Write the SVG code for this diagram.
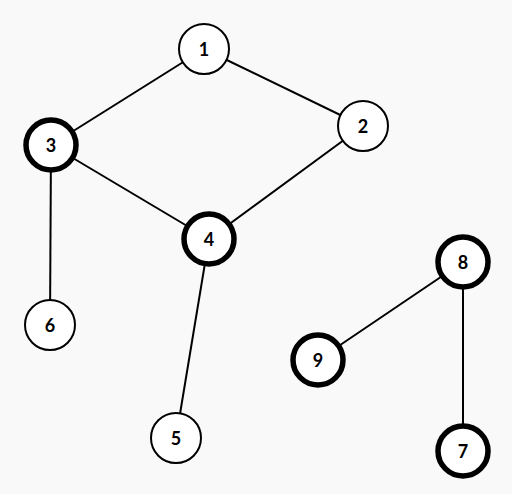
<svg xmlns="http://www.w3.org/2000/svg" width="512" height="494" viewBox="0 0 512 494">
<style>
.e{stroke:#000;stroke-width:2;fill:none}
.n{fill:#fff;stroke:#000;stroke-width:2}
.t{fill:#fff;stroke:#000;stroke-width:5.5}
text{font-family:Lato,"Liberation Sans",sans-serif;font-weight:bold;font-size:18px;fill:#000;text-anchor:middle;dominant-baseline:central}
</style>
<rect width="512" height="494" fill="#f9f9f9"/>
<g id="edges">
<line class="e" x1="204" y1="49" x2="363" y2="126"/>
<line class="e" x1="204" y1="49" x2="51" y2="145"/>
<line class="e" x1="363" y1="126" x2="209" y2="239"/>
<line class="e" x1="51" y1="145" x2="209" y2="239"/>
<line class="e" x1="51" y1="145" x2="50" y2="325"/>
<line class="e" x1="209" y1="239" x2="176" y2="438"/>
<line class="e" x1="463" y1="262" x2="318" y2="360"/>
<line class="e" x1="463" y1="262" x2="463" y2="451"/>
</g>
<g id="n1"><circle class="n" cx="204" cy="49" r="25"/><text x="204" y="49">1</text></g>
<g id="n2"><circle class="n" cx="363" cy="126" r="25"/><text x="363" y="126">2</text></g>
<g id="n3"><circle class="t" cx="51" cy="145" r="25"/><text x="51" y="145">3</text></g>
<g id="n4"><circle class="t" cx="209" cy="239" r="25"/><text x="209" y="239">4</text></g>
<g id="n5"><circle class="n" cx="176" cy="438" r="25"/><text x="176" y="438">5</text></g>
<g id="n6"><circle class="n" cx="50" cy="325" r="25"/><text x="50" y="325">6</text></g>
<g id="n7"><circle class="t" cx="463" cy="451" r="25"/><text x="463" y="451">7</text></g>
<g id="n8"><circle class="t" cx="463" cy="262" r="25"/><text x="463" y="262">8</text></g>
<g id="n9"><circle class="t" cx="318" cy="360" r="25"/><text x="318" y="360">9</text></g>
</svg>
